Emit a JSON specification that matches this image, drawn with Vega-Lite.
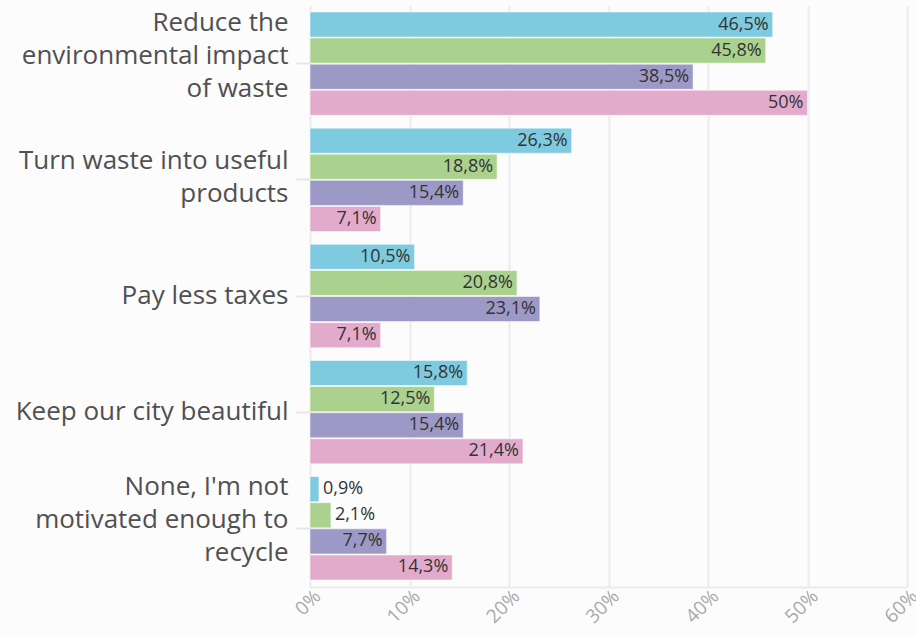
{
  "$schema": "https://vega.github.io/schema/vega-lite/v6.json",
  "width": 597,
  "height": 582,
  "autosize": {"type": "none"},
  "padding": {"left": 310, "top": 5, "right": 9, "bottom": 49},
  "background": "#fcfcfc",
  "config": {
    "view": {"stroke": null},
    "locale": {"number": {"decimal": ",", "thousands": ".", "grouping": [3], "currency": ["", " €"]}},
    "font": "Open Sans"
  },
  "data": {
    "values": [
      {"category": "Reduce the environmental impact of waste", "group": "Group 1", "value": 0.465},
      {"category": "Reduce the environmental impact of waste", "group": "Group 2", "value": 0.458},
      {"category": "Reduce the environmental impact of waste", "group": "Group 3", "value": 0.385},
      {"category": "Reduce the environmental impact of waste", "group": "Group 4", "value": 0.5},
      {"category": "Turn waste into useful products", "group": "Group 1", "value": 0.263},
      {"category": "Turn waste into useful products", "group": "Group 2", "value": 0.188},
      {"category": "Turn waste into useful products", "group": "Group 3", "value": 0.154},
      {"category": "Turn waste into useful products", "group": "Group 4", "value": 0.071},
      {"category": "Pay less taxes", "group": "Group 1", "value": 0.105},
      {"category": "Pay less taxes", "group": "Group 2", "value": 0.208},
      {"category": "Pay less taxes", "group": "Group 3", "value": 0.231},
      {"category": "Pay less taxes", "group": "Group 4", "value": 0.071},
      {"category": "Keep our city beautiful", "group": "Group 1", "value": 0.158},
      {"category": "Keep our city beautiful", "group": "Group 2", "value": 0.125},
      {"category": "Keep our city beautiful", "group": "Group 3", "value": 0.154},
      {"category": "Keep our city beautiful", "group": "Group 4", "value": 0.214},
      {"category": "None, I'm not motivated enough to recycle", "group": "Group 1", "value": 0.009},
      {"category": "None, I'm not motivated enough to recycle", "group": "Group 2", "value": 0.021},
      {"category": "None, I'm not motivated enough to recycle", "group": "Group 3", "value": 0.077},
      {"category": "None, I'm not motivated enough to recycle", "group": "Group 4", "value": 0.143}
    ]
  },
  "encoding": {
    "y": {
      "field": "category",
      "type": "nominal",
      "sort": null,
      "scale": {"paddingInner": 0.11, "paddingOuter": 0.06},
      "axis": {
        "title": null,
        "domain": false,
        "ticks": true,
        "tickSize": 14,
        "tickColor": "#e6e6e6",
        "tickWidth": 2,
        "labelPadding": 8,
        "labelFontSize": 26,
        "labelColor": "#505050",
        "labelLineHeight": 33,
        "labelLimit": 320,
        "labelOffset": {"expr": "(datum.label == 'Reduce the environmental impact of waste' || datum.label == \"None, I'm not motivated enough to recycle\") ? -41 : datum.label == 'Turn waste into useful products' ? -19 : 0"},
        "labelExpr": "datum.label == 'Reduce the environmental impact of waste' ? ['Reduce the', 'environmental impact', 'of waste'] : datum.label == 'Turn waste into useful products' ? ['Turn waste into useful', 'products'] : datum.label == \"None, I'm not motivated enough to recycle\" ? ['None, I\\'m not', 'motivated enough to', 'recycle'] : datum.label"
      }
    },
    "yOffset": {"field": "group", "type": "nominal", "scale": {"paddingInner": 0.04}},
    "x": {
      "field": "value",
      "type": "quantitative",
      "scale": {"domain": [0, 0.6], "nice": false},
      "axis": {
        "title": null,
        "format": "~%",
        "values": [0, 0.1, 0.2, 0.3, 0.4, 0.5, 0.6],
        "grid": true,
        "gridColor": "#ebebeb",
        "gridWidth": 2,
        "domain": true,
        "domainColor": "#ebebeb",
        "domainWidth": 2,
        "ticks": false,
        "labelOverlap": false,
        "labelAngle": -45,
        "labelAlign": "right",
        "labelBaseline": "middle",
        "labelPadding": 6,
        "labelOffset": 7,
        "labelFontSize": 19,
        "labelColor": "#a8a8a8"
      }
    }
  },
  "layer": [
    {
      "mark": {"type": "bar", "stroke": "#ffffff", "strokeOpacity": 0.5, "strokeWidth": 1},
      "encoding": {
        "color": {
          "field": "group",
          "type": "nominal",
          "legend": null,
          "scale": {"range": ["#7ecadf", "#aad18d", "#9d99c7", "#e3abcb"]}
        }
      }
    },
    {
      "transform": [{"filter": "datum.value >= 0.05"}],
      "mark": {"type": "text", "align": "right", "dx": -4, "fontSize": 18, "color": "#333333", "baseline": "middle"},
      "encoding": {"text": {"field": "value", "type": "quantitative", "format": ".1~%"}}
    },
    {
      "transform": [{"filter": "datum.value < 0.05"}],
      "mark": {"type": "text", "align": "left", "dx": 4, "fontSize": 18, "color": "#333333", "baseline": "middle"},
      "encoding": {"text": {"field": "value", "type": "quantitative", "format": ".1~%"}}
    }
  ]
}
